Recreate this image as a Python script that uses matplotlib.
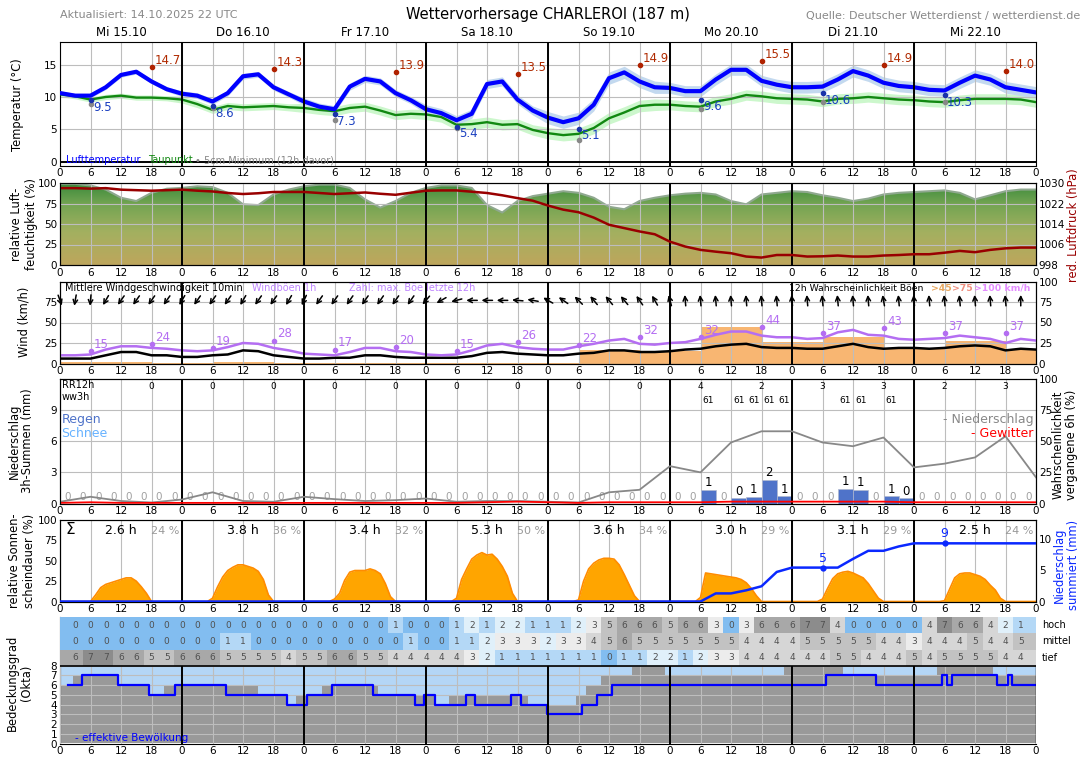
import numpy as np
import matplotlib.pyplot as plt
from matplotlib.colors import LinearSegmentedColormap
from matplotlib.patches import Rectangle
from matplotlib.transforms import ScaledTranslation

W, H = 1088, 763

# ---------------- data ----------------
days = ['Mi 15.10', 'Do 16.10', 'Fr 17.10', 'Sa 18.10', 'So 19.10', 'Mo 20.10', 'Di 21.10', 'Mi 22.10']
hours3 = np.arange(0, 193, 3)

temp = [10.6, 10.2, 10.2, 11.5, 13.4, 13.9, 12.4, 11.2, 10.5, 10.2, 9.3, 10.6, 13.2, 13.5, 11.5, 10.4,
        9.3, 8.5, 8.1, 11.6, 12.8, 12.4, 10.6, 9.5, 8.1, 7.5, 6.4, 7.4, 12.0, 12.4, 9.6, 7.9, 6.8,
        6.1, 6.7, 8.8, 12.9, 13.8, 12.4, 11.5, 11.4, 10.9, 10.9, 12.7, 14.2, 14.2, 12.5, 11.9, 11.5,
        11.5, 11.6, 12.7, 14.0, 13.3, 12.2, 11.7, 11.5, 11.1, 11.0, 12.2, 13.3, 12.7, 11.5, 11.1, 10.7]
dew = [10.4, 10.1, 9.6, 10.0, 10.2, 9.9, 9.9, 9.8, 9.6, 8.9, 8.0, 8.6, 8.4, 8.5, 8.6, 8.4,
       8.3, 8.0, 7.8, 8.3, 8.5, 7.9, 7.2, 7.4, 7.3, 6.9, 5.7, 5.8, 6.1, 5.7, 5.8, 4.9, 4.4,
       4.1, 4.3, 5.2, 6.7, 7.6, 8.6, 8.8, 8.8, 8.6, 8.5, 9.3, 9.7, 10.3, 10.1, 9.8, 9.7,
       9.6, 9.3, 9.7, 9.8, 10.0, 9.8, 9.6, 9.5, 9.3, 9.2, 9.5, 9.7, 9.7, 9.7, 9.6, 9.2]
temp_spread_day = [0.35, 0.45, 0.55, 0.7, 0.95, 0.85, 0.9, 0.9]
dew_spread_day = [0.4, 0.55, 0.7, 0.8, 0.9, 0.8, 0.8, 0.8]
tmin = [9.5, 8.6, 7.3, 5.4, 5.1, 9.6, 10.6, 10.3]
t5cm = [8.9, 8.3, 6.5, 5.2, 3.4, 8.2, 9.2, 9.2]
tmax = [14.7, 14.3, 13.9, 13.5, 14.9, 15.5, 14.9, 14.0]

rh = [99, 99, 97, 92, 82, 78, 88, 93, 94, 96, 95, 88, 74, 73, 86, 92, 96, 98, 98, 94, 80, 70,
      78, 88, 94, 97, 97, 94, 73, 64, 78, 84, 87,
      90, 88, 82, 71, 68, 78, 82, 85, 87, 88, 86, 78, 74, 86, 88, 90, 89, 85, 82, 78,
      81, 86, 88, 89, 90, 91, 88, 80, 85, 90, 92, 92]
pressure = [1028.0, 1028.0, 1027.8, 1028.0, 1027.4, 1027.2, 1027.0, 1027.2, 1027.4, 1027.0, 1026.7,
            1026.1, 1025.7, 1026.0, 1026.5, 1026.5, 1026.5, 1026.1, 1025.7, 1026.0, 1026.3, 1025.8,
            1025.4, 1026.2, 1027.0, 1027.1, 1027.1, 1026.6, 1026.1, 1025.2, 1024.1, 1023.1, 1021.2,
            1019.6, 1018.6, 1016.5, 1013.7, 1012.4, 1011.1, 1010.0, 1007.1, 1005.2, 1003.9, 1003.2,
            1002.6, 1001.3, 1000.9, 1001.9, 1001.9, 1001.3, 1001.4, 1001.7, 1001.3, 1001.3, 1001.7,
            1001.9, 1002.2, 1002.2, 1002.8, 1003.5, 1003.0, 1003.9, 1004.5, 1004.8, 1004.8]

wind = [6, 6, 6, 10, 14, 14, 10, 10, 8, 8, 10, 11, 16, 15, 10, 8, 6, 6, 7, 7, 10, 10, 8, 7, 7, 7, 7,
        9, 13, 14, 12, 11, 10,
        10, 12, 13, 16, 16, 14, 14, 15, 17, 18, 21, 23, 24, 20, 19, 19, 18, 18, 21, 24, 20, 18,
        19, 19, 18, 19, 21, 22, 21, 16, 18, 17]
gust = [10, 10, 11, 17, 21, 21, 19, 18, 16, 15, 16, 20, 25, 24, 19, 16, 12, 11, 10, 14, 19, 19,
        15, 14, 11, 10, 11, 16, 22, 24, 20, 18, 17,
        17, 21, 24, 28, 30, 24, 23, 25, 26, 30, 35, 39, 39, 34, 32, 32, 30, 31, 38, 41, 35, 34,
        30, 29, 30, 31, 34, 32, 30, 25, 30, 28]
gust_max_h = np.arange(6, 187, 12)
gust_max = [15, 24, 19, 28, 17, 20, 15, 26, 22, 32, 32, 44, 37, 43, 37, 37]
gust_prob_start = np.arange(-6, 187, 12)
gust_prob45 = [2, 2, 1, 2, 1, 1, 1, 1, 1, 17, 15, 45, 26, 32, 19, 28, 16]
arrow_hours = np.arange(0, 190, 3)
wind_dir = [-70, -100, -95, -120, -125, -125, -125, -125, -120, -125, -125, -125, -120, -125,
            -125, -120, -115, -125, -125, -125, -125, -125, -125, -125, -130, -150, -165, 180,
            180, 180, 175, 170, 150, 145, 135, 130, 130, 130, 125, 120, 105, 95,
            95, 95, 95, 95, 95, 95, 95, 95, 95, 95, 95, 95, 100, 95, 95, 95, 95, 95, 95, 95, 95, 90]

rain_3h = [0] * 42 + [1.3, 0, 0.5, 0.65, 2.3, 0.7, 0, 0, 0, 1.4, 1.3, 0, 0.7, 0.5] + [0] * 8
rr12_h = np.arange(18, 187, 12)
rr12 = [0, 0, 0, 0, 0, 0, 0, 0, 0, 4, 2, 3, 3, 2, 3]
ww_h = [127.5, 133.5, 136.5, 139.5, 142.5, 154.5, 157.5, 163.5]
ww_code = [61, 61, 61, 61, 61, 61, 61, 61]
hours6 = np.arange(0, 193, 6)
prob_rain = [1.4, 5.4, 2, 0.8, 3.2, 9, 2, 1.4, 5.4, 3.5, 2, 2.7, 4, 1.4, 2, 2, 1.4,
             0.8, 9, 11, 30, 25, 49, 58, 58, 49, 46, 53, 29, 32, 37, 54, 21]
prob_thunder = [0.5, 1, 0.5, 0.5, 0.5, 0.5, 0.5, 0.5, 0.5, 0.5, 0.5, 0.5, 0.5, 0.5, 1, 1.5, 1,
                0.5, 1, 1, 1, 1, 1.5, 1.5, 1.5, 1.5, 1.5, 1.5, 1, 1, 1, 1, 1]

# relative sunshine per day, hours 5..19
sun_days = [[0, 0, 8, 17, 21, 23, 25, 27, 29, 29, 25, 18, 10, 0, 0],
            [0, 4, 18, 30, 38, 42, 45, 45, 43, 41, 37, 27, 8, 0, 0],
            [0, 3, 10, 26, 36, 38, 38, 38, 40, 38, 34, 22, 6, 0, 0],
            [0, 4, 27, 40, 52, 57, 60, 57, 58, 52, 43, 31, 10, 0, 0],
            [0, 2, 25, 40, 47, 51, 53, 53, 52, 45, 33, 20, 7, 0, 0],
            [0, 5, 35, 34, 33, 32, 31, 30, 29, 27, 23, 16, 7, 0, 0],
            [0, 3, 16, 28, 34, 36, 37, 35, 32, 29, 22, 13, 4, 0, 0],
            [0, 1, 15, 29, 34, 35, 35, 33, 31, 27, 20, 14, 4, 0, 0]]
sun_total = [2.6, 3.8, 3.4, 5.3, 3.6, 3.0, 3.1, 2.5]
sun_pct = [24, 36, 32, 50, 34, 29, 29, 24]
cum_label_h = [150, 174]

cloud_hoch = [0] * 21 + [1, 0, 0, 0, 1, 2, 1, 2, 2, 1] + \
    [1, 1, 2, 3, 5, 6, 6, 6, 5, 6, 6, 3, 0, 3, 6, 6, 6, 7, 7, 4, 0, 0, 0, 0, 0, 4, 7, 6, 6, 4, 2, 1]
cloud_mittel = [0, 0, 0, 0, 0, 0, 0, 0, 0, 0, 1, 1, 0, 0, 0, 0, 0, 0, 0, 0, 0] + \
    [0, 1, 0, 0, 1, 1, 2, 3, 3, 3] + \
    [2, 3, 3, 4, 5, 6, 5, 5, 5, 5, 5, 5, 5, 4, 4, 4, 4, 5, 5, 5, 5, 5, 4, 4, 3, 4, 4, 4, 5, 4, 4, 5]
cloud_tief = [6, 7, 7, 6, 6, 5, 5, 6, 6, 6, 5, 5, 5, 5, 4, 5, 5, 6, 6, 5, 5] + \
    [4, 4, 4, 4, 4, 3, 2, 1, 1, 1] + \
    [1, 1, 1, 1, 0, 1, 1, 2, 2, 1, 2, 3, 3, 4, 4, 4, 4, 4, 4, 5, 5, 4, 4, 4, 5, 4, 5, 5, 5, 5, 4, 4]
cloud_h = np.arange(3, 190, 3)
cc_hours = [0, 2.5, 11.5, 17.5, 20.5, 39, 44.5, 46.5, 51.5, 62.5, 73.5, 76.5, 92, 96, 101.5, 103.5,
            106.5, 112.5, 119, 142.5, 154, 169.5, 172.5, 183.5]
cc_vals = [6, 7, 6, 5, 6, 5, 4, 5, 6, 5, 4, 5, 4, 4, 5, 6, 7, 8, 7, 8, 7, 7, 8, 7]
eff_hours = [1.5, 4.4, 11.5, 17.6, 22.6, 32.6, 44.7, 48.5, 53.6, 61.5, 69.8, 71.7, 73.7, 79.9, 81.7,
             88.7, 90.7, 95.8, 102.6, 105.6, 108.6, 150.6, 160.5, 173.5, 174.4, 175.5, 184.4,
             186.4, 187.3]
eff_vals = [6, 7, 6, 5, 6, 5, 4, 5, 6, 5, 4, 5, 4, 5, 4, 5, 4, 3, 4, 5, 6, 7, 6, 7, 6, 7, 6, 7, 6]

# ---------------- figure ----------------
fig = plt.figure(figsize=(W / 100, H / 100), dpi=100)
GRID = '#bdbdbd'


def panel(top, bottom):
    return fig.add_axes([60 / W, 1 - bottom / H, 976 / W, (bottom - top) / H])


def base(ax, ygrid=True):
    ax.set_xlim(0, 192)
    ax.set_xticks(np.arange(0, 193, 6))
    ax.set_xticklabels([str(h % 24) for h in range(0, 193, 6)])
    ax.tick_params(labelsize=7.5, length=0, pad=2)
    ax.grid(True, axis='x', color=GRID, lw=0.8)
    if ygrid:
        ax.grid(True, axis='y', color=GRID, lw=0.8)


def daylines(ax, y0, y1):
    ax.vlines(np.arange(24, 192, 24), y0, y1, color='k', lw=1.4, zorder=6)


def twin(ax, lo, hi, ticks):
    tw = ax.twinx()
    tw.set_ylim(lo, hi)
    tw.set_yticks(ticks)
    tw.tick_params(labelsize=7.5, length=0, pad=2)
    return tw


def ylab(x, y, s, color='k'):
    fig.text(x / W, 1 - y / H, s, rotation=90, ha='center', va='center', fontsize=8.3,
             color=color, linespacing=1.1)


fig.text(60 / W, 1 - 15 / H, 'Aktualisiert: 14.10.2025 22 UTC', fontsize=8, color='#888888', va='center')
fig.text(548 / W, 1 - 14 / H, 'Wettervorhersage CHARLEROI (187 m)', fontsize=10.5, ha='center', va='center')
fig.text(1080 / W, 1 - 16 / H, 'Quelle: Deutscher Wetterdienst / wetterdienst.de', fontsize=8,
         color='#888888', ha='right', va='center')

# ---- temperature ----
ax = panel(42, 165.5)
base(ax)
ax.set_ylim(-0.6, 18.5)
ax.set_yticks([0, 5, 10, 15])
t = np.array(temp)
d = np.array(dew)
ts = np.append(np.repeat(temp_spread_day, 8), temp_spread_day[-1])
ds = np.append(np.repeat(dew_spread_day, 8), dew_spread_day[-1])
ax.fill_between(hours3, d - ds, d + ds, color='#ccf7cc', lw=0, zorder=1)
ax.fill_between(hours3, t - ts, t + ts, color='#c3d9ef', lw=0, zorder=1.5)
ax.plot(hours3, d, color='#118811', lw=1.7, zorder=3)
ax.plot(hours3, t, color='#0000ff', lw=3, zorder=4)
ax.axhline(0, color='k', lw=1.4, zorder=5)
for i in range(8):
    hmin, hmax = 24 * i + 6, 24 * i + 18
    ax.plot(hmin, t5cm[i], 'o', ms=3, color='#888888', zorder=5)
    ax.plot(hmin, tmin[i], 'o', ms=3, color='#1a33aa', zorder=5)
    ax.text(hmin + 0.5, tmin[i] - 1.1, '%.1f' % tmin[i], color='#1a3fc0', fontsize=8.5, va='center')
    ax.plot(hmax, tmax[i], 'o', ms=3, color='#b02200', zorder=5)
    ax.text(hmax + 0.6, tmax[i] + 1.0, '%.1f' % tmax[i], color='#b02a00', fontsize=8.5, va='center')
    ax.text(24 * i + 12, 1.075, days[i], transform=ax.get_xaxis_transform(), ha='center',
            va='center', fontsize=8.5)
ax.text(1.2, 0.2, 'Lufttemperatur', color='#0000ff', fontsize=7, va='center', zorder=7)
ax.text(17.3, 0.2, 'Taupunkt', color='#118811', fontsize=7, va='center', zorder=7)
ax.text(26.5, 0.2, '\u2022 5cm Minimum (12h davor)', color='#888888', fontsize=7, va='center', zorder=7)
daylines(ax, -0.6, 18.5)
ylab(18, 105, 'Temperatur (\u00b0C)')

# ---- humidity / pressure ----
ax = panel(183, 265)
base(ax)
ax.set_axisbelow(False)
ax.set_ylim(0, 100)
ax.set_yticks([0, 25, 50, 75, 100])
cmap_rh = LinearSegmentedColormap.from_list('rh', [(0, '#bea65c'), (0.4, '#a3b060'),
                                                    (0.75, '#72a452'), (1, '#3b8a3b')])
poly = ax.fill_between(hours3, 0, rh, facecolor='none', edgecolor='none')
im = ax.imshow(np.linspace(0, 1, 256).reshape(-1, 1), extent=[0, 192, 0, 100], origin='lower',
               aspect='auto', cmap=cmap_rh, zorder=1)
im.set_clip_path(poly.get_paths()[0], transform=ax.transData)
ax.plot(hours3, rh, color='#8fa88f', lw=1.5, zorder=2)
ax.set_xlim(0, 192)
ax.set_ylim(0, 100)
daylines(ax, 0, 100)
tw = twin(ax, 998, 1030, [998, 1006, 1014, 1022, 1030])
tw.plot(hours3, pressure, color='#990000', lw=1.8)
ylab(24, 224, 'relative Luft-\nfeuchtigkeit (%)')
ylab(1073, 225, 'red. Luftdruck (hPa)', color='#990000')

# ---- wind ----
ax = panel(281.5, 363.5)
base(ax)
ax.set_ylim(0, 100)
ax.set_yticks([0, 25, 50, 75])
ax.bar(gust_prob_start, gust_prob45, width=12, align='edge', color='#f8b672', lw=0, zorder=1)
ax.plot(hours3, wind, color='k', lw=1.8, zorder=3)
ax.plot(hours3, gust, color='#b46ef2', lw=1.8, zorder=3)
for h, g in zip(gust_max_h, gust_max):
    ax.plot(h, g, 'o', ms=3, color='#b46ef2', zorder=4)
    ax.text(h + 0.7, g + 8, str(g), color='#b46ef2', fontsize=8.5, va='center')
for h, ang in zip(arrow_hours, wind_dir):
    a = np.deg2rad(ang)
    dx, dy = 0.055 * np.cos(a), 0.055 * np.sin(a)
    tip = ax.transData + ScaledTranslation(dx, dy, fig.dpi_scale_trans)
    tail = ax.transData + ScaledTranslation(-dx, -dy, fig.dpi_scale_trans)
    ax.annotate('', xy=(h, 77), xycoords=tip, xytext=(h, 77), textcoords=tail,
                arrowprops=dict(arrowstyle='->', color='k', lw=1.1, shrinkA=0, shrinkB=0,
                                mutation_scale=8), zorder=5)
ax.text(1, 92, 'Mittlere Windgeschwindigkeit 10min', fontsize=7, va='center')
ax.text(37.8, 92, 'Windb\u00f6en 1h', fontsize=7, va='center', color='#bf85ff')
ax.text(56.8, 92, 'Zahl: max. B\u00f6e letzte 12h', fontsize=7, va='center', color='#bf85ff')
ax.text(143.5, 92, '12h Wahrscheinlichkeit B\u00f6en', fontsize=6.7, va='center')
ax.text(171.3, 92, '>45', fontsize=6.7, va='center', color='#e8a860', fontweight='bold')
ax.text(175.5, 92, '>75', fontsize=6.7, va='center', color='#f09080', fontweight='bold')
ax.text(179.8, 92, '>100 km/h', fontsize=6.7, va='center', color='#e48cff', fontweight='bold')
daylines(ax, 0, 100)
twin(ax, 0, 100, [0, 25, 50, 75, 100])
ylab(24, 322, 'Wind (km/h)')

# ---- precipitation ----
ax = panel(379, 503.5)
base(ax)
ax.set_ylim(0, 12)
ax.set_yticks([0, 3, 6, 9])
starts = hours3[:-1]
ax.bar(starts, rain_3h, width=3, align='edge', color='#4f73c9', edgecolor='#b0b8d0', lw=0.5, zorder=3)
for s, v in zip(starts, rain_3h):
    if v > 0:
        ax.text(s + 1.5, v + 0.05, str(int(round(v))), ha='center', va='bottom', fontsize=8.5, zorder=6)
    else:
        ax.text(s + 1.5, 0.1, '0', ha='center', va='bottom', fontsize=7.5, color='#a0a0a0', zorder=6)
for h, v in zip(rr12_h, rr12):
    ax.text(h, 11.3, str(v), ha='center', va='center', fontsize=6.5)
for h, c in zip(ww_h, ww_code):
    ax.text(h, 9.95, str(c), ha='center', va='center', fontsize=6.5)
ax.text(0.4, 11.4, 'RR12h', fontsize=7, va='center')
ax.text(0.4, 10.3, 'ww3h', fontsize=7, va='center')
ax.text(0.3, 8.1, 'Regen', fontsize=9, va='center', color='#4f73c9')
ax.text(0.3, 6.7, 'Schnee', fontsize=9, va='center', color='#66b2ff')
daylines(ax, 0, 12)
tw = twin(ax, 0, 100, [0, 25, 50, 75, 100])
tw.plot(hours6, prob_rain, color='#888888', lw=1.3)
tw.plot(hours6, prob_thunder, color='#ff0000', lw=1.3)
tw.text(191.5, 67.5, '- Niederschlag', ha='right', va='center', fontsize=9, color='#888888')
tw.text(191.5, 56, '- Gewitter', ha='right', va='center', fontsize=9, color='#ff0000')
ylab(21, 441, 'Niederschlag\n3h-Summen (mm)')
ylab(1065, 445, 'Wahrscheinlichkeit\nvergangene 6h (%)')

# ---- sunshine ----
ax = panel(520, 601.5)
base(ax, ygrid=False)
ax.set_ylim(0, 100)
ax.set_yticks([0, 25, 50, 75, 100])
sun_h = np.arange(0, 193)
sun = np.zeros(193)
for i, vals in enumerate(sun_days):
    sun[24 * i + 5:24 * i + 20] = vals
ax.fill_between(sun_h, 0, sun, color='#ffa500', lw=0, zorder=2)
ax.plot(sun_h, sun, color='#ff8c00', lw=1.2, zorder=2)
for i in range(8):
    ax.text(24 * i + 12, 87, '%.1f h' % sun_total[i], ha='center', va='center', fontsize=9)
    ax.text(24 * i + 23.5, 87, '%d %%' % sun_pct[i], ha='right', va='center', fontsize=8, color='#999999')
ax.text(1, 88, '\u03a3', fontsize=11, va='center')
daylines(ax, 0, 100)
tw = twin(ax, 0, 13.1, [0, 5, 10])
cum = np.concatenate([[0], np.cumsum(rain_3h)])
tw.plot(hours3, cum, color='#0a28ff', lw=1.8, zorder=5)
for h in cum_label_h:
    v = cum[list(hours3).index(h)]
    tw.plot(h, v, 'o', ms=3.5, color='#0a28ff')
    tw.text(h, v + 1.5, str(int(v)), ha='center', va='center', fontsize=9, color='#0a28ff')
ylab(22, 561, 'relative Sonnen-\nscheindauer (%)')
ylab(1066, 565, 'Niederschlag\nsummiert (mm)', color='#0a28ff')

# ---- clouds ----
ax = panel(617, 743.5)
base(ax)
ax.set_axisbelow(False)
ax.set_ylim(0, 13.02)
ax.set_yticks(range(9))
ax.spines['top'].set_visible(False)
ax.spines['right'].set_visible(False)
ax.fill_between([0, 192], 0, 8, color='#b4d6f6', lw=0, zorder=0.5)
ch = np.append(cc_hours, 192)
cv = np.append(cc_vals, cc_vals[-1])
ax.fill_between(ch, 0, cv, step='post', color='#999999', lw=0, zorder=1)
ax.step(np.append(eff_hours, 192), np.append(eff_vals, eff_vals[-1]), where='post',
        color='#0000ff', lw=1.6, zorder=5)
ax.text(3, 0.55, '- effektive Bew\u00f6lkung', fontsize=7.5, color='#0000ff', va='center', zorder=7)
cell_col = ['#82bdf0', '#b4d8f6', '#e0f0fa', '#ececec', '#d6d6d6', '#c2c2c2', '#a8a8a8', '#8c8c8c', '#777777']
rows = [(cloud_tief, 8.0, 'tief'), (cloud_mittel, 9.67, 'mittel'), (cloud_hoch, 11.34, 'hoch')]
for vals, y0, name in rows:
    for j, (h, v) in enumerate(zip(cloud_h, vals)):
        x0 = 0 if j == 0 else h - 1.5
        x1 = 192 if j == len(vals) - 1 else h + 1.5
        ax.add_patch(Rectangle((x0, y0), x1 - x0, 1.68, facecolor=cell_col[v], lw=0, zorder=3))
        ax.text(h, y0 + 0.84, str(v), ha='center', va='center', fontsize=6.5, color='#505050', zorder=4)
    ax.text(193.2, y0 + 0.84, name, fontsize=7, va='center', clip_on=False)
ax.axhline(8, color='k', lw=1.2, zorder=6)
ax.vlines(192, 0, 8, color='k', lw=1.0, zorder=6)
ax.vlines(np.arange(24, 192, 24), 0, 8, color='k', lw=1.4, zorder=6)
ylab(19, 683, 'Bedeckungsgrad\n(Okta)')

fig.savefig('out.png', dpi=100)
